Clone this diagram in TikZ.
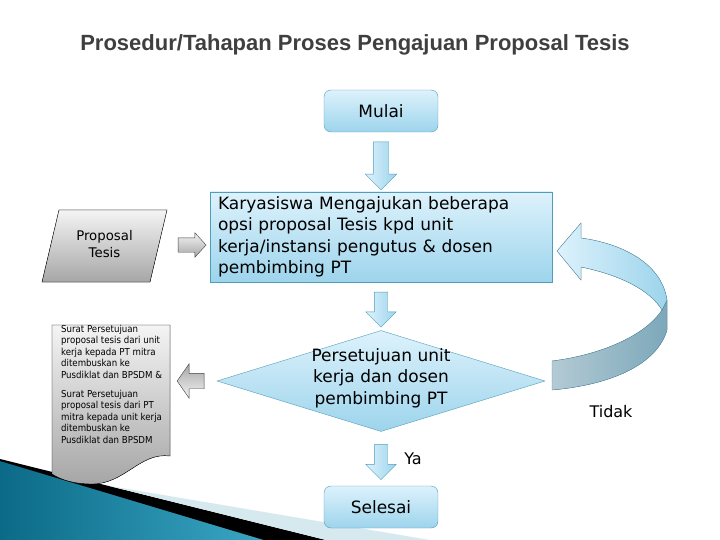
\documentclass[tikz,border=0pt]{standalone}
\usepackage{fontspec}
\setmainfont{DejaVu Sans}
\newfontfamily\judulfont{Liberation Sans}
\newfontfamily\kecilfont{DejaVu Sans Condensed}
\usepackage{tikz}
\usetikzlibrary{positioning, calc, shapes.geometric, shapes.arrows}
\definecolor{birumuda}{HTML}{DDF2FC}
\definecolor{birutua}{HTML}{9DD4EC}
\definecolor{garisbiru}{HTML}{4E9DBA}
\definecolor{abuterang}{HTML}{F4F4F4}
\definecolor{abugelap}{HTML}{A6A6A6}
\definecolor{judulwarna}{HTML}{3F3F3F}
\definecolor{tealgelap}{HTML}{0B6A87}
\definecolor{tealterang}{HTML}{3AA6C4}
\definecolor{pitaterang}{HTML}{D6E9EF}
\definecolor{loopgelap}{HTML}{7CA8BA}
\definecolor{loopterang}{HTML}{B3CAD4}
\definecolor{garisloop}{HTML}{5A97AD}

\begin{document}
\begin{tikzpicture}[x=1pt,y=-1pt,
  isi/.style={font=\fontsize{17}{21.5}\selectfont},
  kotak/.style={draw=garisbiru,top color=birumuda,bottom color=birutua,inner sep=0pt},
  ujung/.style={kotak,isi,rounded corners=7pt,minimum width=114pt,minimum height=42pt},
  keputusan/.style={diamond,kotak,minimum width=328pt,minimum height=101pt},
  panahbawah/.style={single arrow,draw=garisbiru,left color=birumuda,right color=birutua,
    rotate=-90,inner xsep=0pt,single arrow head indent=0pt},
  panahabu/.style={single arrow,draw=black!75,inner xsep=0pt,single arrow head indent=0pt},
  bentukabu/.style={draw=black,top color=abuterang,bottom color=abugelap}]
  \useasboundingbox (0,0) rectangle (720,540);

  \fill[left color=tealgelap,right color=tealterang] (0,460) -- (264,540) -- (0,540) -- cycle;
  \fill[black] (0,459) -- (326,540) -- (264,540) -- (0,461) -- cycle;
  \fill[pitaterang] (110,486) -- (430,540) -- (326,540) -- cycle;

  \node[font=\judulfont\bfseries\fontsize{22}{26}\selectfont,text=judulwarna] (judul) at (355,45) {Prosedur/Tahapan Proses Pengajuan Proposal Tesis};

  \node[ujung] (mulai) at (381,111) {Mulai};
  \node[kotak,isi,minimum width=342pt,minimum height=90pt,text width=326pt,align=left] (ajukan) at (381,237)
    {Karyasiswa Mengajukan beberapa\\ opsi proposal Tesis kpd unit\\ kerja/instansi pengutus \& dosen\\ pembimbing PT};
  \node[keputusan] (setuju) at (381,381) {};
  \node[isi,align=center,inner sep=0pt] (setujuteks) at (381,378) {Persetujuan unit\\ kerja dan dosen\\ pembimbing PT};
  \node[ujung] (selesai) at (381,507) {Selesai};

  \filldraw[bentukabu] (59,210) -- (167,210) -- (150,282) -- (42,282) -- cycle;
  \node[font=\fontsize{13.3}{17}\selectfont,align=center] (proposal) at (104.5,244.5) {Proposal\\ Tesis};

  \filldraw[bentukabu] (52,325) -- (170,325) -- (170,456) .. controls (140,452) and (125,484) .. (92,484)
    .. controls (72,484) and (60,479) .. (52,474) -- cycle;
  \node[font=\kecilfont\fontsize{9.6}{11.5}\selectfont,align=left,anchor=north west,inner sep=0pt] (surat) at (61,325)
    {Surat Persetujuan\\ proposal tesis dari unit\\ kerja kepada PT mitra\\ ditembuskan ke\\ Pusdiklat dan BPSDM \&\\[7.5pt]
     Surat Persetujuan\\ proposal tesis dari PT\\ mitra kepada unit kerja\\ ditembuskan ke\\ Pusdiklat dan BPSDM};

  \node[panahbawah,minimum height=48pt,inner ysep=7.5pt,single arrow head extend=8pt] (p1) at ($(mulai.south)!0.5!(ajukan.north)$) {};
  \node[panahbawah,minimum height=35pt,inner ysep=6.5pt,single arrow head extend=8.5pt] (p2) at ($(ajukan.south)!0.5!(setuju.north)$) {};
  \node[panahbawah,minimum height=35pt,inner ysep=6.5pt,single arrow head extend=8.5pt] (p3) at ($(setuju.south)!0.5!(selesai.north)$) {};
  \node[panahabu,top color=abuterang,bottom color=abugelap,minimum height=28pt,inner ysep=7pt,
    single arrow head extend=5pt,single arrow tip angle=95] (p4) at ($(ajukan.west)+(-21,8)$) {};
  \node[panahabu,rotate=180,top color=abugelap,bottom color=abuterang,minimum height=27pt,inner ysep=7.5pt,
    single arrow head extend=9.5pt,single arrow tip angle=110] (p5) at ($(setuju.west)+(-23.5,0)$) {};

  \filldraw[draw=garisloop,left color=loopterang,right color=loopgelap] (552,361)
    .. controls (600,355) and (645,336) .. (662,310) -- (667,300) -- (667,330)
    .. controls (657,365) and (610,385) .. (552,390) -- cycle;
  \filldraw[draw=garisloop,left color=birumuda,right color=birutua] (667,300)
    .. controls (662,265) and (625,244) .. (581,238) -- (581,223) -- (557,251) -- (581,280) -- (581,267)
    .. controls (620,275) and (650,290) .. (662,310) -- cycle;

  \node[font=\fontsize{16}{19}\selectfont] (ya) at (413,459) {Ya};
  \node[font=\fontsize{16}{19}\selectfont] (tidak) at (611,412) {Tidak};
\end{tikzpicture}
\end{document}
